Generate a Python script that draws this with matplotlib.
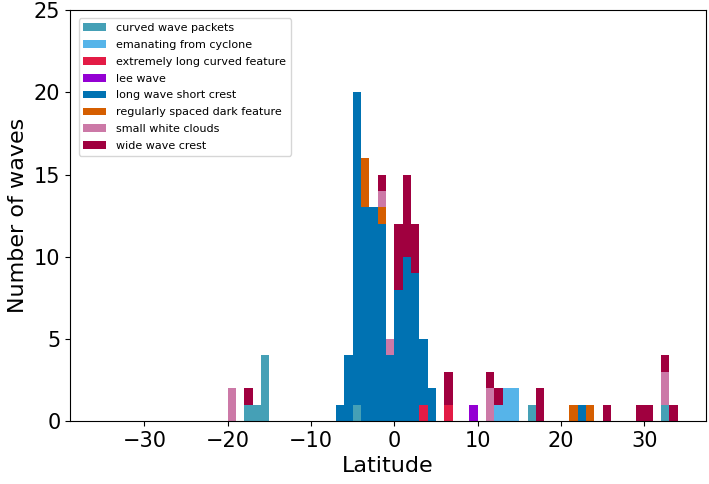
import numpy as np
import matplotlib
matplotlib.use('Agg')
import matplotlib.pyplot as plt

# left edge of each 1-degree latitude bin that holds at least one wave
bin_lat = [-20, -18, -17, -16, -7, -6, -5, -4, -3, -2, -1, 0, 1, 2, 3, 4,
           6, 9, 11, 12, 13, 14, 16, 17, 21, 22, 23, 25, 29, 30, 32, 33]

# counts per category, aligned with bin_lat
curved_wave_packets      = [0, 1, 1, 4, 0, 0, 1, 0, 0, 0, 0, 0, 0, 0, 0, 0,
                            0, 0, 0, 0, 0, 0, 1, 0, 0, 0, 0, 0, 0, 0, 1, 0]
emanating_from_cyclone   = [0, 0, 0, 0, 0, 0, 0, 0, 0, 0, 0, 0, 0, 0, 0, 0,
                            0, 0, 0, 1, 2, 2, 0, 0, 0, 0, 0, 0, 0, 0, 0, 0]
extremely_long_curved    = [0, 0, 0, 0, 0, 0, 0, 0, 0, 0, 0, 0, 0, 0, 1, 0,
                            1, 0, 0, 0, 0, 0, 0, 0, 0, 0, 0, 0, 0, 0, 0, 0]
lee_wave                 = [0, 0, 0, 0, 0, 0, 0, 0, 0, 0, 0, 0, 0, 0, 0, 0,
                            0, 1, 0, 0, 0, 0, 0, 0, 0, 0, 0, 0, 0, 0, 0, 0]
long_wave_short_crest    = [0, 0, 0, 0, 1, 4, 19, 13, 13, 12, 4, 8, 10, 9, 4, 2,
                            0, 0, 0, 0, 0, 0, 0, 0, 0, 1, 0, 0, 0, 0, 0, 0]
regularly_spaced_dark    = [0, 0, 0, 0, 0, 0, 0, 3, 0, 1, 0, 0, 0, 0, 0, 0,
                            0, 0, 0, 0, 0, 0, 0, 0, 1, 0, 1, 0, 0, 0, 0, 0]
small_white_clouds       = [2, 0, 0, 0, 0, 0, 0, 0, 0, 1, 1, 0, 0, 0, 0, 0,
                            0, 0, 2, 0, 0, 0, 0, 0, 0, 0, 0, 0, 0, 0, 2, 0]
wide_wave_crest          = [0, 1, 0, 0, 0, 0, 0, 0, 0, 1, 0, 4, 5, 3, 0, 0,
                            2, 0, 1, 1, 0, 0, 0, 2, 0, 0, 0, 1, 1, 1, 1, 1]

labels = ['curved wave packets', 'emanating from cyclone',
          'extremely long curved feature', 'lee wave',
          'long wave short crest', 'regularly spaced dark feature',
          'small white clouds', 'wide wave crest']
colors = ['#45a0b6', '#56b4e9', '#e31b45', '#9400d3',
          '#0072b2', '#d55e00', '#cc79a7', '#a0003f']

counts = [curved_wave_packets, emanating_from_cyclone, extremely_long_curved,
          lee_wave, long_wave_short_crest, regularly_spaced_dark,
          small_white_clouds, wide_wave_crest]

edges = np.arange(-35, 35, 1.0)
centers = np.array(bin_lat) + 0.5

fig = plt.figure(figsize=(7.09, 4.84), dpi=100)
ax = fig.add_axes([0.099, 0.130, 0.897, 0.849])

ax.hist([centers] * len(counts), bins=edges, weights=counts, stacked=True,
        color=colors, label=labels, histtype='bar', rwidth=1.0)

ax.set_xlim(-38.9, 37.4)
ax.set_ylim(0, 25)
ax.set_xticks([-30, -20, -10, 0, 10, 20, 30])
ax.set_yticks([0, 5, 10, 15, 20, 25])
ax.tick_params(labelsize=15)
ax.set_xlabel('Latitude', fontsize=16)
ax.set_ylabel('Number of waves', fontsize=16)
ax.legend(loc='upper left', fontsize=8, labelspacing=0.62,
          borderaxespad=0.75, handletextpad=0.9, handlelength=2.1)

fig.savefig('out.png', dpi=100)
